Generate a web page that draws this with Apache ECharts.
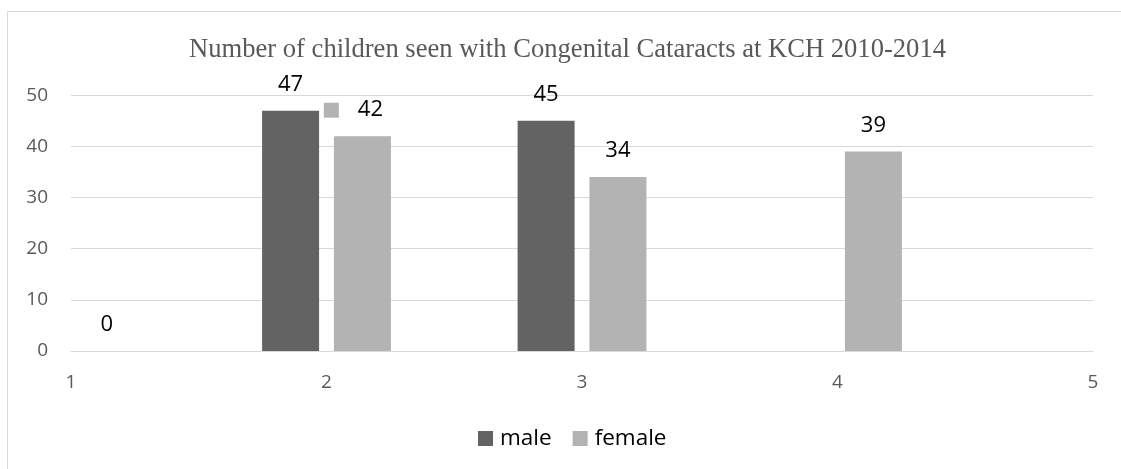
<!DOCTYPE html>
<html>
<head>
<meta charset="utf-8">
<title>Congenital Cataracts at KCH</title>
<script src="https://cdn.jsdelivr.net/npm/echarts@6/dist/echarts.min.js"></script>
<style>
  html, body { margin: 0; padding: 0; background: #fff; }
  #chart { width: 1121px; height: 469px; }
</style>
</head>
<body>
<div id="chart"></div>
<script>
// Positions along the x axis (1..5) and the counts per group
const positions = [1, 2, 3, 4, 5];
const male = [null, 47, 45, null, null];
const female = [0, 42, 34, 39, null];
const xTicks = [1, 2, 3, 4, 5];
const yTicks = [0, 10, 20, 30, 40, 50];

// The female label at x = 2 carries a small legend key next to the number
const keyedLabel = { series: 'female', x: 2 };

const MALE_COLOR = '#636363';
const FEMALE_COLOR = '#b3b3b3';

function pairs(values) {
  const out = [];
  values.forEach((v, i) => { if (v !== null) out.push([positions[i], v]); });
  return out;
}

function buildData(name, values) {
  return pairs(values).map(p => {
    if (name === keyedLabel.series && p[0] === keyedLabel.x) {
      return {
        value: p,
        label: {
          formatter: params => '{k|}{s|}{v|' + params.value[1] + '}',
          offset: [-9, 0],
          rich: {
            k: { width: 15, height: 15, backgroundColor: FEMALE_COLOR },
            s: { width: 19 },
            v: { fontSize: 22, color: '#000', fontFamily: 'Open Sans' }
          }
        }
      };
    }
    return { value: p };
  });
}

const labelStyle = {
  show: true,
  position: 'top',
  distance: 15,
  fontSize: 22,
  color: '#000',
  fontFamily: 'Open Sans',
  formatter: params => String(params.value[1])
};

const chart = echarts.init(document.getElementById('chart'), null, { renderer: 'canvas' });

chart.setOption({
  backgroundColor: '#ffffff',
  animation: false,
  title: {
    text: 'Number of children seen with Congenital Cataracts at KCH 2010-2014',
    left: 184,
    top: 32,
    textStyle: {
      fontFamily: 'Liberation Serif',
      fontWeight: 'normal',
      fontSize: 26.6,
      color: '#595959'
    }
  },
  legend: {
    left: 473,
    top: 422,
    itemWidth: 15,
    itemHeight: 15,
    itemGap: 21,
    icon: 'rect',
    textStyle: { fontFamily: 'Open Sans', fontSize: 22.5, color: '#000', padding: [0, 0, 0, 2] },
    data: ['male', 'female']
  },
  graphic: [{
    type: 'rect',
    silent: true,
    shape: { x: 7.5, y: 11.5, width: 1300, height: 700 },
    style: { fill: 'none', stroke: '#d9d9d9', lineWidth: 1 }
  }],
  grid: { left: 71, right: 28, top: 95.3, bottom: 118, containLabel: false },
  xAxis: {
    type: 'value',
    min: xTicks[0],
    max: xTicks[xTicks.length - 1],
    interval: 1,
    axisLine: { show: true, lineStyle: { color: '#d9d9d9', width: 1 } },
    axisTick: { show: false },
    splitLine: { show: false },
    axisLabel: { margin: 22, fontSize: 19, color: '#595959', fontFamily: 'Open Sans' }
  },
  yAxis: {
    type: 'value',
    min: yTicks[0],
    max: yTicks[yTicks.length - 1],
    interval: 10,
    axisLine: { show: false },
    axisTick: { show: false },
    splitLine: { lineStyle: { color: '#d9d9d9', width: 1 } },
    axisLabel: { margin: 23, fontSize: 19, color: '#595959', fontFamily: 'Open Sans' }
  },
  series: [
    {
      name: 'male',
      type: 'bar',
      barWidth: 57,
      barGap: '26%',
      itemStyle: { color: MALE_COLOR },
      label: labelStyle,
      data: buildData('male', male)
    },
    {
      name: 'female',
      type: 'bar',
      barWidth: 57,
      barGap: '26%',
      itemStyle: { color: FEMALE_COLOR },
      label: labelStyle,
      data: buildData('female', female)
    }
  ]
});
</script>
</body>
</html>
